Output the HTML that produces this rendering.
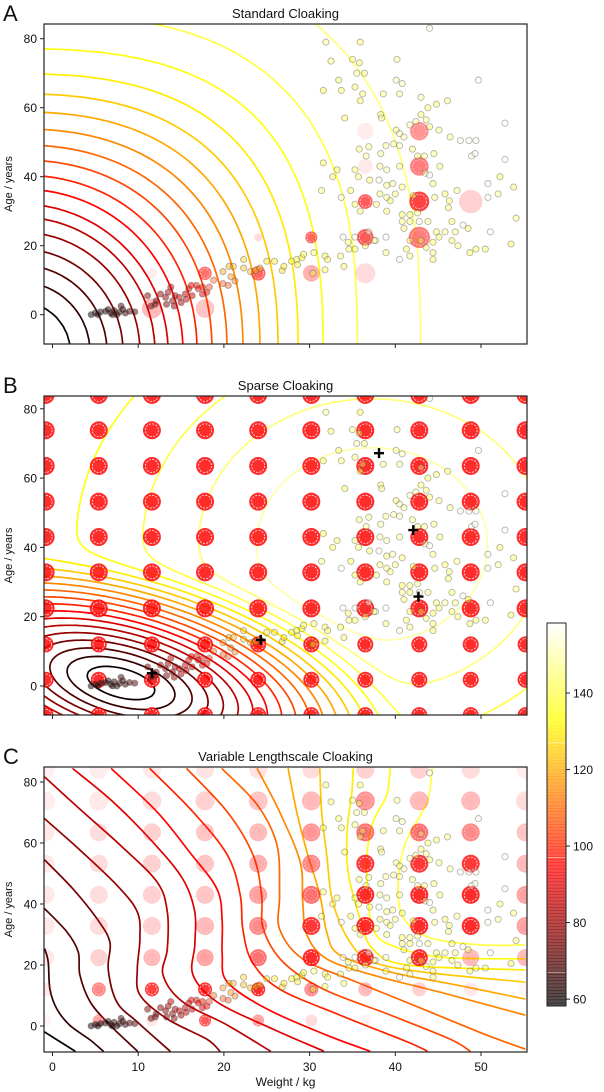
<!DOCTYPE html>
<html><head><meta charset="utf-8">
<style>
html,body{margin:0;padding:0;background:#fff;}
svg{display:block;font-family:"Liberation Sans","DejaVu Sans",sans-serif;}
</style></head>
<body>
<svg id="fig" width="604" height="1092" viewBox="0 0 604 1092" xmlns="http://www.w3.org/2000/svg">
<rect x="0" y="0" width="604" height="1092" fill="#fff"/>
</svg>
<script>
// ---------------- data ----------------
const xTicks = [0,10,20,30,40,50];
const yTicks = [0,20,40,60,80];
const cbTicks = [60,80,100,120,140];
const levels = [60,65,70,75,80,85,90,95,100,105,110,115,120,125,130,135,140,145,150,155];
const levelsA = [60,65,70,75,80,85,90,95,100,105,110,115,120,125,130,135,140,145];
// panel A field profile: distance from corner source (px) vs value
const fieldAProfileDist = [0,50,70,87,103,120,135,148,163,177,192,207,223,240,258,278,303,337,400,520,700];
const fieldAProfileVal  = [40,60,65,70,75,80,85,90,95,100,105,110,115,120,125,130,135,140,145,149,152];

const ptKg = [4.5,5,5.6,6.2,6.8,7.2,7.5,7.8,8.2,8.5,9,9.6,7,6.5,8,5.3,
11.1,12.1,12.6,13.2,13.5,14,14.3,14.8,15,15.5,15.9,16.3,16.8,17,17.5,18,17.5,18.3,16.2,13.8,12,13.3,11.5,14.2,15.6,
22.3,25,25.9,27.9,28.5,29.1,29.3,20.6,21.1,22.3,23.1,23.7,24.2,26.8,27,28.6,30.4,31.8,19.9,18.8,19.9,20.5,21.3,20.8,
31.9,35.9,44,32.5,35,35.8,40.2,35.5,36.4,33.4,40.1,40.8,31.6,33.7,35.3,36.2,35.9,38.6,40.5,43,43.8,44.8,46.1,49.7,34.1,38.3,38.4,43,43.6,42.4,41.7,44,45.1,40.1,40.5,41,46.4,47.6,48.6,49.4,52.8,36.9,35.8,38.9,39.8,40.5,42,36.6,38.3,42.6,43.4,44.5,48.9,49.3,52.8,31.6,33.2,35.3,38.2,39,40.5,43.5,45.2,44,32.7,35.7,37,38.1,39,39.7,40.8,44.4,50.8,52.2,53.8,31.4,33.7,34.8,35.3,35.9,37.8,38.2,39,39.4,40,39,42.1,44.6,45.8,46.3,47.2,46.2,50.8,52,40.8,41.7,40.8,41,41.7,42.8,43.8,42.6,44.8,45.8,46.6,47,47.9,48.5,51.1,54.1,33.9,35.3,36.9,37.7,38.9,34.5,36.5,37.5,41.7,43,44.4,45.1,46.6,47.3,43.6,44.4,41.3,41.7,40.5,44.4,38.9,34.6,35.3,33.6,34,31.8,32.1,30.5,49.4,48.7,50.5,53.5];
const ptAge = [0,0.5,0.8,1,0.5,1.2,0,0.7,1.5,0.5,1,0.8,0,1.5,2.5,0,
5.5,4,6,5,6.5,4,5.5,5,3.5,6,7.5,5.5,8.5,7.5,8,6.5,6,8,8.5,8,3,3,2.5,2.5,4.5,
16,15.5,15.5,15.5,16,16.5,17.5,14,14,13.5,12.5,12.8,13.5,12.8,14,14.5,12,13,12.5,10,9,8.5,9.8,11,
79,79,83,73.5,74,73,74,70,70,68,68,67,65,65,66,64,62,64,64,63,60,61,62,68,57,58,57,58,56.5,56,55,54.5,53.5,53.5,52.5,51.5,51.5,50.5,50.5,50.5,55.5,48.7,48,49,49.5,49,48,46,46.7,46,46,46.7,46,46.7,45,44,42,42,43,42,43,41,43,40.5,40,40,39,39,37.5,38,37,38,38,40,37,36,34,36,32,30,32,35,34,33,35,30,34.5,34,35,33,36,31,34,35,29,29,27,25,27,27,27,29.5,24,24,27,24,26,25,24,28,22.5,22.5,24,21.5,22.5,21,20,21.5,21.5,21.5,21,22.5,21.5,20,19.5,18,19,17,16,16,18,19,19,17,14,17,16,18,19,18,19,20.5];
const ptVal = [60,61,62,62,63,64,63,65,66,66,68,70,63,64,67,61,
78,76,80,79,82,80,83,85,84,88,92,88,98,95,97,96,92,100,94,86,75,77,74,79,86,
126,128,130,132,133,134,135,120,121,122,120,122,124,127,128,131,135,137,116,108,106,105,112,114,
145,138,156,140,142,141,146,147,143,139,148,150,136,140,142,141,139,144,146,147,140,141,142,156,138,142,145,140,143,146,150,141,144,142,148,147,145,156,156,156,157,144,142,146,147,150,143,145,146,144,143,142,156,156,157,137,139,141,144,150,145,148,142,157,138,140,141,156,143,146,141,142,157,139,141,142,156,138,139,141,143,141,145,141,143,142,140,143,140,141,144,141,156,145,138,142,143,141,140,156,144,145,140,146,141,144,156,140,157,142,156,157,156,157,157,140,142,143,141,140,138,140,141,142,141,142,140,143,156,141,142,140,138,141,140,139,138,140,138,139,140,138,139,157,157,157,157];

const gridKg = [-0.8,5.4,11.6,17.8,24,30.2,36.5,42.8,48.8,55.2];
const gridAge = [84,73.8,63.5,53.2,43,32.8,22.4,12,1.8,-8.4];

const aKg = [42.8,36.5,42.8,36.5,42.8,36.5,48.8,42.8,36.5,30.2,24,36.5,30.2,24,17.8,11.6,17.8,11.6];
const aAge = [53.2,53.2,43,43,32.8,32.8,32.8,22.4,22.4,22.4,22.4,12,12,12,12,12,1.8,1.8];
const aAlpha = [0.45,0.08,0.55,0.1,0.8,0.7,0.2,0.55,0.7,0.65,0.15,0.15,0.35,0.65,0.6,0.08,0.25,0.3];
const aRad = [9.3,8.3,9.3,7.3,10,7.3,11.7,10.7,8.3,6,4,10,8.3,7.3,6.7,5,9.3,10];

const bRowRad = [9,9,9,9,9,9,9,8,8,8];

const cAlpha = [
[0.06,0.08,0.1,0.12,0.12,0.15,0.2,0.2,0.15,0.08],
[0.08,0.1,0.15,0.2,0.25,0.3,0.45,0.3,0.3,0.15],
[0.1,0.15,0.2,0.25,0.3,0.45,0.6,0.6,0.5,0.25],
[0.1,0.15,0.2,0.25,0.35,0.5,0.85,0.85,0.85,0.3],
[0.1,0.15,0.2,0.25,0.4,0.6,0.9,0.9,0.9,0.4],
[0.1,0.15,0.2,0.3,0.5,0.85,0.9,0.9,0.9,0.4],
[0.1,0.2,0.3,0.4,0.6,0.9,0.9,0.9,0.3,0.3],
[0.1,0.5,0.8,0.85,0.9,0.5,0.3,0.2,0.1,0.05],
[0.05,0.4,0.1,0.7,0.4,0.15,0.05,0.03,0,0],
[0,0,0,0,0,0,0,0,0,0]];
const cRowRad = [9,9.5,9,9,9,9,8.5,7,6,6];

const crossKg = [38.1,42.1,42.7,24.3,11.6];
const crossAge = [67.2,45,25.8,13.3,3.7];

const cLevels = [60,65,70,75,80,85,90,95,100,105,110,115,120,125,130,135,140];
const cLineKg = [
[-0.9,2.6],
[-0.9,-0.5,-0.3,0.5,2.0,4.4,5.9],
[-0.9,1.7,3.0,3.2,4.4,6.7,9.9],
[-0.9,2.4,5.2,6.7,6.5,7.5,9.9,13.7],
[-0.9,3.2,7.5,9.9,10.2,9.9,10.2,13.4,18.0,19.5],
[-0.9,3.2,7.9,12.2,13.4,13.4,12.9,15.2,20.4,25.4],
[2.4,7.1,11.7,15.2,16.6,16.6,16.4,19.2,25.7,31.6],
[6.9,12.2,16.0,19.2,19.8,19.8,20.4,25.0,32.0,37.0],
[11.4,16.4,20.4,21.9,22.2,23.3,26.5,33.5,41.4,43.7],
[15.7,20.4,23.4,24.4,24.6,26.9,31.6,39.4,46.4,48.7],
[19.8,23.9,26.2,26.5,26.5,29.2,35.5,43.2,50.7,55.1],
[23.9,26.5,28.9,29.2,29.7,32.0,37.4,45.2,55.1],
[27.5,28.5,29.7,31.2,32.0,33.5,39.4,47.2,55.1],
[31.2,31.4,32.0,32.7,34.7,37.4,43.2,55.1],
[35.1,34.9,34.4,34.5,35.9,37.4,41.4,55.1],
[39.4,39.0,37.4,36.7,36.8,37.4,39.4,45.2,55.1],
[44.3,43.7,41.1,40.3,41.1,44.1,49.9,55.1]];
const cLineAge = [
[-2.0,-8.2],
[25.2,21.0,12.1,5.6,0.3,-4.6,-8.2],
[38.4,30.8,24.3,16.7,7.9,0.3,-8.2],
[54.4,44.9,35.1,27.5,18.7,7.9,1.3,-8.2],
[67.9,57.7,46.2,37.4,28.5,18.7,10.2,2.3,-4.3,-8.2],
[81.6,71.1,59.3,47.2,37.4,25.2,16.7,7.9,0.3,-8.2],
[84.3,73.4,60.3,48.2,37.4,26.6,16.7,7.9,-1.0,-8.2],
[84.3,70.2,57.0,44.9,34.1,23.3,14.4,5.6,-3.0,-8.2],
[84.3,70.2,56.1,43.0,31.8,21.0,12.1,3.6,-5.2,-8.2],
[84.3,70.2,56.1,43.0,31.8,21.0,12.1,3.6,-4.3,-8.2],
[84.3,72.5,59.3,43.0,31.8,22.0,14.4,5.6,-3.0,-7.5],
[84.3,70.2,53.8,40.7,29.8,22.0,16.7,11.1,3.6],
[84.3,70.2,57.0,43.0,30.8,23.3,17.7,13.4,8.9],
[84.3,70.2,56.1,40.7,27.5,21.0,17.7,14.4],
[84.3,75.7,64.6,50.5,35.1,25.2,20.0,18.4],
[84.3,75.7,66.9,56.1,43.0,31.8,26.6,22.6,22.0],
[84.3,73.4,59.3,44.9,34.8,28.9,26.6,26.6]];

// ---------------- helpers ----------------
const NS = "http://www.w3.org/2000/svg";
const svg = document.getElementById('fig');
function el(tag, attrs, parent){ const e=document.createElementNS(NS,tag); for(const k in attrs) e.setAttribute(k,attrs[k]); (parent||svg).appendChild(e); return e; }
const VMIN=58.2, VMAX=158.3;
function hot(v){
  let t=(v-VMIN)/(VMAX-VMIN); t=Math.max(0,Math.min(1,t));
  const r=Math.min(1,t/0.365), g=Math.max(0,Math.min(1,(t-0.365)/0.381)), b=Math.max(0,Math.min(1,(t-0.746)/0.254));
  return [Math.round(r*255),Math.round(g*255),Math.round(b*255)];
}
function rgba(v,a){const c=hot(v);return `rgba(${c[0]},${c[1]},${c[2]},${a})`;}
const L=44, R=527;
function X(kg){ return 52.5 + 8.57*kg; }
const panels = [
 {id:'a', letter:'A', title:'Standard Cloaking', top:24, bottom:344, y0:314.7, s:3.45},
 {id:'b', letter:'B', title:'Sparse Cloaking', top:396, bottom:715, y0:686, s:3.465},
 {id:'c', letter:'C', title:'Variable Lengthscale Cloaking', top:767, bottom:1052, y0:1026, s:3.05}
];

function interp(xs, ys, x){
  if(x<=xs[0]) return ys[0];
  for(let i=1;i<xs.length;i++) if(x<=xs[i]){const t=(x-xs[i-1])/(xs[i]-xs[i-1]); return ys[i-1]+t*(ys[i]-ys[i-1]);}
  return ys[ys.length-1];
}
function fieldA(px,py){
  const dx=Math.abs(px-20), dy=Math.abs(py-352);
  const r=Math.hypot(dx,dy);
  const p=2+0.8*Math.max(0,Math.min(1,(r-150)/200));
  const d=Math.pow(Math.pow(dx,p)+Math.pow(dy,p),1/p);
  return interp(fieldAProfileDist, fieldAProfileVal, d);
}
function fieldB(px,py){
  const dx=px-121, dy=py-683, th=15*Math.PI/180;
  const u=dx*Math.cos(th)+dy*Math.sin(th), w=-dx*Math.sin(th)+dy*Math.cos(th);
  const e=Math.hypot(u/2.4,w);
  const cone=56+0.85*(Math.sqrt(e*e+400)-20);
  const pl=128+27*Math.exp(-(((px-372)/255)**2+((py-545)/215)**2));
  const k=5; return -k*Math.log(Math.exp(-cone/k)+Math.exp(-pl/k));
}
function contourPath(f, x0,y0,x1,y1, lev, step){
  const nx=Math.ceil((x1-x0)/step), ny=Math.ceil((y1-y0)/step);
  const vals=[];
  for(let j=0;j<=ny;j++){const row=[];for(let i=0;i<=nx;i++)row.push(f(x0+i*step,y0+j*step));vals.push(row);}
  let d='';
  for(let j=0;j<ny;j++)for(let i=0;i<nx;i++){
    const a=vals[j][i], b=vals[j][i+1], c=vals[j+1][i+1], e=vals[j+1][i];
    const xa=x0+i*step, ya=y0+j*step;
    const pts=[];
    const edge=(v1,v2,p1,p2)=>{ if((v1<lev)!==(v2<lev)){const t=(lev-v1)/(v2-v1); pts.push([p1[0]+t*(p2[0]-p1[0]),p1[1]+t*(p2[1]-p1[1])]);} };
    edge(a,b,[xa,ya],[xa+step,ya]);
    edge(b,c,[xa+step,ya],[xa+step,ya+step]);
    edge(c,e,[xa+step,ya+step],[xa,ya+step]);
    edge(e,a,[xa,ya+step],[xa,ya]);
    for(let k=0;k+1<pts.length;k+=2) d+=`M${pts[k][0].toFixed(1)} ${pts[k][1].toFixed(1)}L${pts[k+1][0].toFixed(1)} ${pts[k+1][1].toFixed(1)}`;
  }
  return d;
}
function smoothPath(p){
  if(p.length<3) return 'M'+p.map(q=>q[0].toFixed(1)+' '+q[1].toFixed(1)).join('L');
  let d=`M${p[0][0].toFixed(1)} ${p[0][1].toFixed(1)}`;
  for(let i=0;i<p.length-1;i++){
    const p0=p[i-1]||p[i], p1=p[i], p2=p[i+1], p3=p[i+2]||p2;
    const c1=[p1[0]+(p2[0]-p0[0])/6, p1[1]+(p2[1]-p0[1])/6];
    const c2=[p2[0]-(p3[0]-p1[0])/6, p2[1]-(p3[1]-p1[1])/6];
    d+=`C${c1[0].toFixed(1)} ${c1[1].toFixed(1)} ${c2[0].toFixed(1)} ${c2[1].toFixed(1)} ${p2[0].toFixed(1)} ${p2[1].toFixed(1)}`;
  }
  return d;
}
function cloakCircle(g, cx, cy, r, a, name){
  const grp=el('g',{},g);
  
  
  el('circle',{cx:cx,cy:cy,r:r,fill:`rgba(255,0,0,${(a*0.92).toFixed(3)})`},grp);
  el('circle',{cx:cx,cy:cy,r:(r*0.72).toFixed(2),fill:'none',stroke:`rgba(255,255,255,${a.toFixed(3)})`,'stroke-width':0.8,'stroke-dasharray':'2 1.4'},grp);
}

panels.forEach((P,pi)=>{
  const Y = age => P.y0 - P.s*age;
  const g = el('g',{});
  
  
  const clip = el('clipPath',{id:'clip-'+P.id},g);
  el('rect',{x:L,y:P.top,width:R-L,height:P.bottom-P.top},clip);
  const inner = el('g',{'clip-path':`url(#clip-${P.id})`},g);

  const cg = el('g',{fill:'none','stroke-width':1.7,'stroke-linejoin':'round','stroke-linecap':'round'},inner);
  
  
  if(P.id==='a'||P.id==='b'){
    const f = P.id==='a'?fieldA:fieldB;
    const lvls = P.id==='a'?levelsA:levels;
    lvls.forEach(lv=>{
      const d=contourPath(f,L-3,P.top-3,R+3,P.bottom+3,lv,3);
      if(d){const p=el('path',{d:d,stroke:rgba(lv,1)},cg);
        
        }
    });
  } else {
    cLevels.forEach((lv,i)=>{
      const pts=cLineKg[i].map((k,j)=>[X(k),Y(cLineAge[i][j])]);
      const p=el('path',{d:smoothPath(pts),stroke:rgba(lv,1)},cg);
      
      
    });
  }

  const circ = el('g',{},inner);
  
  
  if(P.id==='a'){
    aKg.forEach((k,i)=>cloakCircle(circ,X(k),Y(aAge[i]),aRad[i],aAlpha[i],'cloak-circle'));
  } else {
    gridAge.forEach((ag,ri)=>gridKg.forEach((k,ci)=>{
      const a = P.id==='b'?0.9:cAlpha[ri][ci];
      const r = P.id==='b'?bRowRad[ri]:cRowRad[ri];
      if(a>0) cloakCircle(circ,X(k),Y(ag),r,a,'cloak-circle');
    }));
  }

  const sg = el('g',{},inner);
  
  
  ptKg.forEach((k,i)=>{
    const c=el('circle',{cx:X(k).toFixed(1),cy:Y(ptAge[i]).toFixed(1),r:3.1,fill:rgba(ptVal[i],ptVal[i]<100?0.5:0.4),stroke:'rgba(70,70,70,0.4)','stroke-width':0.9},sg);
    
    
  });

  if(P.id==='b'){
    crossKg.forEach((k,i)=>{
      const cx=X(k), cy=Y(crossAge[i]);
      const p=el('path',{d:`M${cx-5} ${cy}H${cx+5}M${cx} ${cy-5}V${cy+5}`,stroke:'#000','stroke-width':2.4},inner);
      
      
    });
  }

  const fr=el('rect',{x:L,y:P.top,width:R-L,height:P.bottom-P.top,fill:'none',stroke:'#222','stroke-width':1.2},g);
  
  

  xTicks.forEach(t=>{
    const x=X(t);
    el('line',{x1:x,x2:x,y1:P.bottom,y2:P.bottom+4,stroke:'#222','stroke-width':1},g);
    if(P.id==='c'){
      const tx=el('text',{x:x,y:P.bottom+19,'font-size':12,'text-anchor':'middle',fill:'#111'},g);
      tx.textContent=t;
      
      
    }
  });
  yTicks.forEach(t=>{
    const y=Y(t);
    el('line',{x1:L-4,x2:L,y1:y,y2:y,stroke:'#222','stroke-width':1},g);
    const tx=el('text',{x:L-7,y:y+4.5,'font-size':12,'text-anchor':'end',fill:'#111'},g);
    tx.textContent=t;
    
    
  });
  const yl=el('text',{x:0,y:0,'font-size':11,'text-anchor':'middle',fill:'#111',transform:`translate(12 ${(P.top+P.bottom)/2}) rotate(-90)`},g);
  yl.textContent='Age / years';
  
  
  const ti=el('text',{x:(L+R)/2,y:P.top-6,'font-size':13,'text-anchor':'middle',fill:'#111'},g);
  ti.textContent=P.title;
  
  
  const lt=el('text',{x:3,y:P.top-3,'font-size':22,fill:'#111'},g);
  lt.textContent=P.letter;
  
  
});

const xl=el('text',{x:(L+R)/2,y:1086,'font-size':12,'text-anchor':'middle',fill:'#111'});
xl.textContent='Weight / kg';



const cb=el('g',{});


const CBT=623, CBB=1006, CBL=547, CBR=566;
const cbY = v => CBB - (v-VMIN)/(VMAX-VMIN)*(CBB-CBT);
for(let i=0;i<120;i++){
  const v0=VMIN+(VMAX-VMIN)*i/120, v1=VMIN+(VMAX-VMIN)*(i+1)/120;
  el('rect',{x:CBL,y:cbY(v1),width:CBR-CBL,height:cbY(v0)-cbY(v1)+0.5,fill:rgba((v0+v1)/2,0.7)},cb);
}
[127,97,67].forEach(v=>el('line',{x1:CBL,x2:CBR,y1:cbY(v),y2:cbY(v),stroke:'rgba(255,255,255,0.45)','stroke-width':1},cb));
el('rect',{x:CBL,y:CBT,width:CBR-CBL,height:CBB-CBT,fill:'none',stroke:'#222','stroke-width':1},cb);
cbTicks.forEach(t=>{
  const y=cbY(t);
  el('line',{x1:CBR,x2:CBR+4,y1:y,y2:y,stroke:'#222','stroke-width':1},cb);
  const tx=el('text',{x:CBR+7,y:y+4.5,'font-size':12,fill:'#111'},cb);
  tx.textContent=t;
  
  
});
</script>
</body></html>
